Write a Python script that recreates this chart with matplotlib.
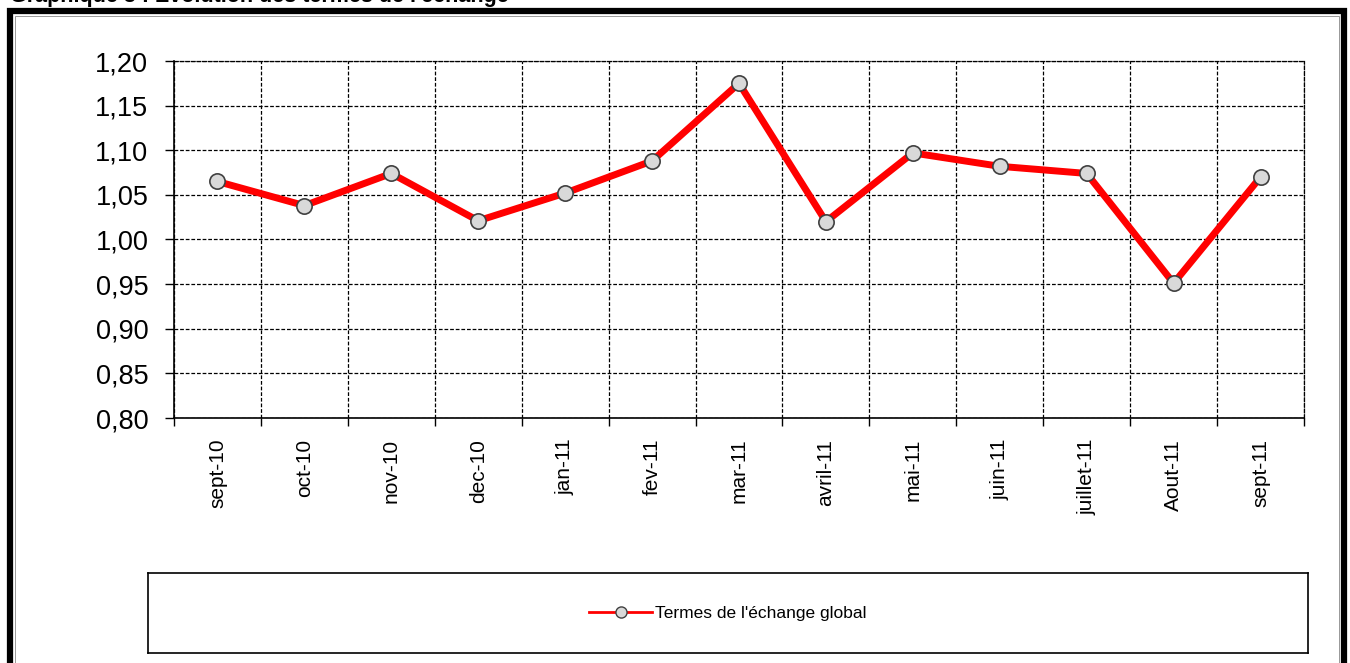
import matplotlib.pyplot as plt
from matplotlib.patches import Rectangle
from matplotlib.lines import Line2D
from matplotlib.ticker import FuncFormatter, MultipleLocator
import numpy as np

plt.rcParams['font.family'] = ['Liberation Sans', 'DejaVu Sans']

months = ['sept-10', 'oct-10', 'nov-10', 'dec-10', 'jan-11', 'fev-11', 'mar-11',
          'avril-11', 'mai-11', 'juin-11', 'juillet-11', 'Aout-11', 'sept-11']
termes = [1.065, 1.038, 1.074, 1.021, 1.052, 1.088, 1.175,
          1.020, 1.097, 1.082, 1.074, 0.951, 1.070]
series_label = "Termes de l'échange global"

W, H = 1350, 663
fig = plt.figure(figsize=(W / 100, H / 100), dpi=100)

# title, cut off at the top like in the source page
fig.text(10 / W, 1 - 2 / H, "Graphique 3 : Evolution des termes de l'échange",
         fontsize=15.5, fontweight='bold', ha='left', va='baseline')

# outer frame
fig.patches.append(Rectangle((10 / W, -0.05), (W - 16) / W, 1.05 - 11 / H,
                             transform=fig.transFigure, fill=False,
                             edgecolor='black', lw=4.5))
fig.patches.append(Rectangle((15 / W, -0.05), (W - 26) / W, 1.05 - 16 / H,
                             transform=fig.transFigure, fill=False,
                             edgecolor='#888888', lw=0.6))

ax = fig.add_axes([174 / W, 1 - 418 / H, (1304 - 174) / W, (418 - 61) / H])
x = np.arange(len(months))
ax.plot(x, termes, color='#ff0000', lw=5, marker='o', markersize=11,
        markerfacecolor='#d9d9d9', markeredgecolor='#404040', markeredgewidth=1.2,
        solid_capstyle='round', zorder=3, clip_on=False)

ax.set_xlim(-0.5, len(months) - 0.5)
ax.set_ylim(0.80, 1.20)
ax.yaxis.set_major_locator(MultipleLocator(0.05))
ax.yaxis.set_major_formatter(FuncFormatter(lambda v, p: f'{v:.2f}'.replace('.', ',')))
ax.tick_params(axis='y', labelsize=19.5, length=6.5, width=1, pad=12)

# categories centered between boundary ticks
ax.set_xticks(np.arange(len(months) + 1) - 0.5)
ax.set_xticklabels([])
ax.set_xticks(x, minor=True)
ax.set_xticklabels(months, minor=True, rotation=90, fontsize=15)
ax.tick_params(axis='x', which='major', length=6, width=1, direction='out')
ax.tick_params(axis='x', which='minor', length=0, pad=15)

ax.grid(True, which='major', color='black', linestyle=(0, (3, 1.5)), lw=0.9)
for s in ['top', 'right']:
    ax.spines[s].set_linestyle((0, (3, 1.5)))
    ax.spines[s].set_linewidth(0.9)
ax.spines['left'].set_linewidth(1.2)
ax.spines['bottom'].set_linewidth(1.2)
ax.set_axisbelow(True)

# legend box
lg_ax = fig.add_axes([148 / W, 1 - 653 / H, (1308 - 148) / W, (653 - 573) / H])
lg_ax.set_xticks([])
lg_ax.set_yticks([])
for s in lg_ax.spines.values():
    s.set_linewidth(1.2)
handle = Line2D([], [], color='#ff0000', lw=2, marker='o', markersize=8,
                markerfacecolor='#d9d9d9', markeredgecolor='#404040')
lg_ax.legend([handle], [series_label], loc='center', frameon=False,
             fontsize=12.5, handlelength=3.6, handletextpad=0.2)

fig.savefig('out.png', dpi=100)
